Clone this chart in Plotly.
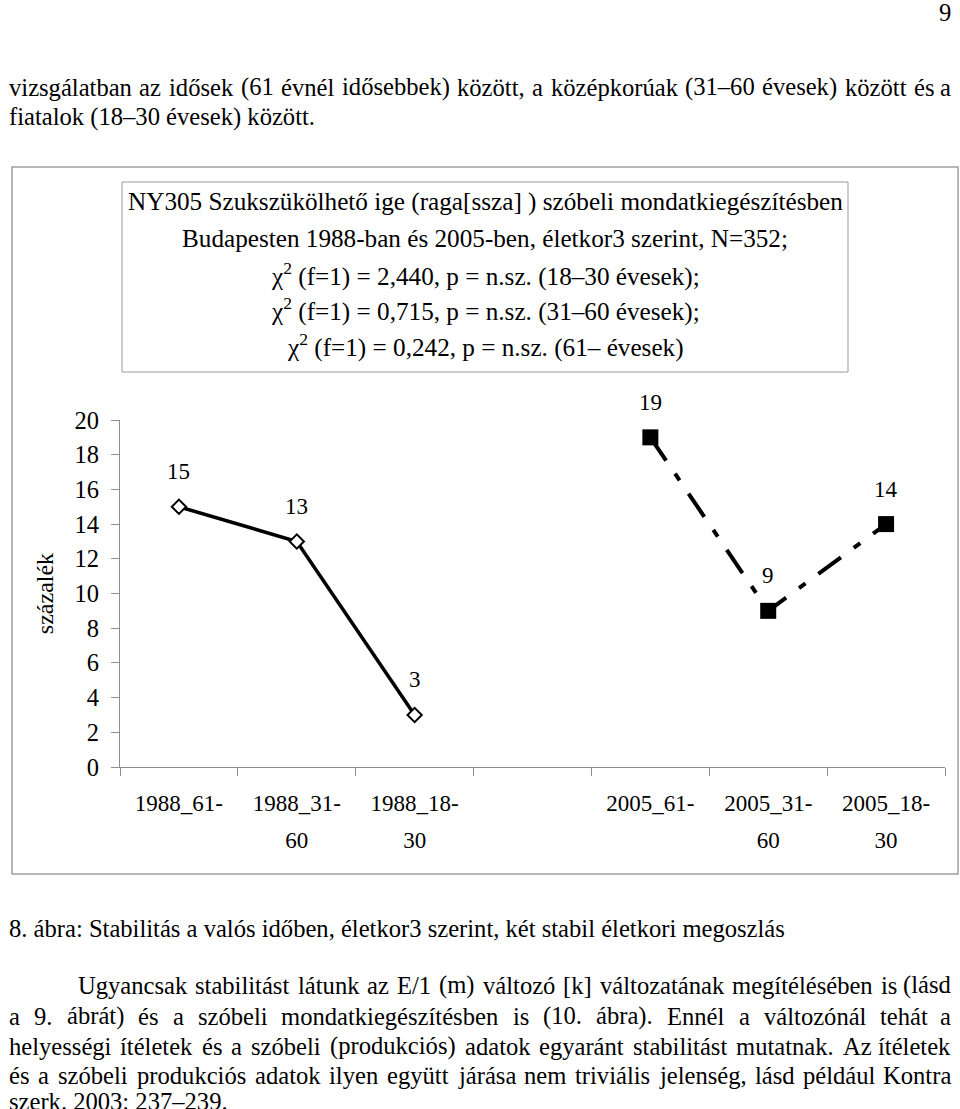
import plotly.graph_objects as go

# ---------------- data ----------------
categories = ["1988_61-", "1988_31-60", "1988_18-30", "gap", "2005_61-", "2005_31-60", "2005_18-30"]
tick_line1 = ["1988_61-", "1988_31-", "1988_18-", "", "2005_61-", "2005_31-", "2005_18-"]
tick_line2 = ["", "60", "30", "", "", "60", "30"]

cats_1988 = ["1988_61-", "1988_31-60", "1988_18-30"]
values_1988 = [15, 13, 3]
cats_2005 = ["2005_61-", "2005_31-60", "2005_18-30"]
values_2005 = [19, 9, 14]

y_ticks = [0, 2, 4, 6, 8, 10, 12, 14, 16, 18, 20]
y_title = "százalék"

title_lines = [
    "NY305 Szukszükölhető ige (raga[ssza] ) szóbeli mondatkiegészítésben",
    "Budapesten 1988-ban és 2005-ben, életkor3 szerint, N=352;",
    "χ<sup>2</sup> (f=1) = 2,440, p = n.sz. (18–30 évesek);",
    "χ<sup>2</sup> (f=1) = 0,715, p = n.sz. (31–60 évesek);",
    "χ<sup>2</sup> (f=1) = 0,242, p = n.sz. (61– évesek)",
]

page_number = "9"
text_top = [
    "vizsgálatban az idősek (61 évnél idősebbek) között, a középkorúak (31–60 évesek) között és a",
    "fiatalok (18–30 évesek) között.",
]
caption = "8. ábra: Stabilitás a valós időben, életkor3 szerint, két stabil életkori megoszlás"
text_bottom = [
    "Ugyancsak stabilitást látunk az E/1 (m) változó [k] változatának megítélésében is (lásd",
    "a 9. ábrát) és a szóbeli mondatkiegészítésben is (10. ábra). Ennél a változónál tehát a",
    "helyességi ítéletek és a szóbeli (produkciós) adatok egyaránt stabilitást mutatnak. Az ítéletek",
    "és a szóbeli produkciós adatok ilyen együtt járása nem triviális jelenség, lásd például Kontra",
    "szerk. 2003: 237–239.",
]

# ---------------- layout helpers ----------------
W, H = 960, 1109
FONT = "Liberation Serif"
AX = "#8e8e8e"
BODY = 24.6

# Times-compatible advance widths (1/1000 em) used to justify the page text
_w = {" ": 250, "!": 333, "(": 333, ")": 333, ",": 250, "-": 333, ".": 250, "/": 278,
      ":": 278, ";": 278, "=": 564, "[": 333, "]": 333, "_": 500, "–": 500,
      "A": 722, "B": 667, "C": 667, "D": 722, "E": 611, "F": 556, "G": 722, "H": 722,
      "I": 333, "J": 389, "K": 722, "L": 611, "M": 889, "N": 722, "O": 722, "P": 556,
      "Q": 722, "R": 667, "S": 556, "T": 611, "U": 722, "V": 722, "W": 944, "X": 722,
      "Y": 722, "Z": 611, "a": 444, "b": 500, "c": 444, "d": 500, "e": 444, "f": 333,
      "g": 500, "h": 500, "i": 278, "j": 278, "k": 500, "l": 278, "m": 778, "n": 500,
      "o": 500, "p": 500, "q": 500, "r": 333, "s": 389, "t": 278, "u": 500, "v": 500,
      "w": 722, "x": 500, "y": 500, "z": 444, "á": 444, "é": 444, "í": 278, "ó": 500,
      "ö": 500, "ő": 500, "ú": 500, "ü": 500, "ű": 500}


def tw(s, size):
    return sum(_w.get(ch, 500) for ch in s) / 1000.0 * size


def px(x):
    return x / W


def py(y):
    return 1 - y / H


def plain(t, x, y, size, anchor="left"):
    return dict(x=px(x), y=py(y), xref="paper", yref="paper", text=t, showarrow=False,
                xanchor=anchor, yanchor="middle", borderpad=0,
                font=dict(family=FONT, size=size, color="black"))


def justified(line, x0, x1, y, size):
    words = line.split(" ")
    widths = [tw(w, size) for w in words]
    gap = (x1 - x0 - sum(widths)) / (len(words) - 1)
    out = []
    x = x0
    for i, (wd, wdt) in enumerate(zip(words, widths)):
        if i == len(words) - 1:
            out.append(plain(wd, x1, y, size, "right"))
        else:
            out.append(plain(wd, x, y, size, "left"))
        x += wdt + gap
    return out


idx_1988 = [categories.index(c) for c in cats_1988]
idx_2005 = [categories.index(c) for c in cats_2005]
tv1 = [i for i, t in enumerate(tick_line1) if t]
tt1 = [tick_line1[i] for i in tv1]
tv2 = [i for i, t in enumerate(tick_line2) if t]
tt2 = [tick_line2[i] for i in tv2]

fig = go.Figure()
fig.add_trace(go.Scatter(
    x=idx_1988, y=values_1988, mode="lines+markers",
    line=dict(color="black", width=3.5),
    marker=dict(symbol="diamond", size=11, color="white", line=dict(color="black", width=2)),
    hoverinfo="skip", showlegend=False,
))
fig.add_trace(go.Scatter(
    x=idx_2005, y=values_2005, mode="lines+markers",
    line=dict(color="black", width=4, dash="28px,16px,8px,16px"),
    marker=dict(symbol="square", size=16, color="black"),
    hoverinfo="skip", showlegend=False,
))
# invisible trace to activate the second-line tick axis
fig.add_trace(go.Scatter(
    x=[0], y=[0], xaxis="x2", yaxis="y", mode="markers",
    marker=dict(opacity=0), hoverinfo="skip", showlegend=False,
))

annotations = []
for xs, vs in ((idx_1988, values_1988), (idx_2005, values_2005)):
    for xv, v in zip(xs, vs):
        annotations.append(dict(
            x=xv, y=v, xref="x", yref="y", text=str(v), showarrow=False,
            yanchor="middle", yshift=35, font=dict(family=FONT, size=23, color="black"),
        ))

title_y = [202, 238, 274, 310, 345]
for t, yy in zip(title_lines, title_y):
    annotations.append(plain(t, 485, yy, 25.2, "center"))

annotations.append(plain(page_number, 952, 12, BODY, "right"))
annotations += justified(text_top[0], 8, 952, 87, BODY)
annotations.append(plain(text_top[1], 8, 117, BODY))
annotations.append(plain(caption, 8, 928, BODY))
body_y = [985, 1016, 1046, 1075, 1101]
for i, (t, yy) in enumerate(zip(text_bottom, body_y)):
    if i < 4:
        annotations += justified(t, 77 if i == 0 else 8, 952, yy, BODY)
    else:
        annotations.append(plain(t, 8, yy, BODY))

shapes = [
    dict(type="rect", xref="paper", yref="paper", x0=px(12), x1=px(958), y0=py(874), y1=py(167),
         line=dict(color="#a0a0a0", width=1.5), fillcolor="rgba(0,0,0,0)", layer="below"),
    dict(type="rect", xref="paper", yref="paper", x0=px(122), x1=px(848), y0=py(372), y1=py(182),
         line=dict(color="#9a9a9a", width=1), fillcolor="rgba(0,0,0,0)", layer="below"),
]

xdom = [px(120), px(945)]
fig.update_layout(
    width=W, height=H, margin=dict(l=0, r=0, t=0, b=0),
    paper_bgcolor="white", plot_bgcolor="white", showlegend=False,
    font=dict(family=FONT, color="black"),
    xaxis=dict(
        domain=xdom, range=[-0.5, 6.5], showgrid=False, zeroline=False,
        showline=True, linecolor=AX, linewidth=1,
        tickmode="array", tickvals=tv1, ticktext=tt1,
        ticks="", tickfont=dict(family=FONT, size=23, color="black"),
        ticklabelstandoff=15,
        minor=dict(tickmode="array", tickvals=[i - 0.5 for i in range(len(categories) + 1)],
                   ticks="outside", ticklen=8, tickcolor=AX, tickwidth=1, showgrid=False),
        automargin=False, fixedrange=True,
    ),
    xaxis2=dict(
        overlaying="x", anchor="y", side="bottom", range=[-0.5, 6.5],
        showgrid=False, zeroline=False, showline=False, ticks="",
        tickmode="array", tickvals=tv2, ticktext=tt2,
        tickfont=dict(family=FONT, size=23, color="black"), ticklabelstandoff=57,
        automargin=False, fixedrange=True,
    ),
    yaxis=dict(
        domain=[py(767), py(420)], range=[0, 20], showgrid=False, zeroline=False,
        showline=True, linecolor=AX, linewidth=1,
        tickmode="array", tickvals=y_ticks, ticks="outside", ticklen=8, tickcolor=AX,
        tickfont=dict(family=FONT, size=24.5, color="black"), ticklabelstandoff=7,
        title=dict(text=y_title, font=dict(family=FONT, size=24, color="black"), standoff=14),
        automargin=False, fixedrange=True,
    ),
    annotations=annotations, shapes=shapes,
)

fig.write_html("out.html")
